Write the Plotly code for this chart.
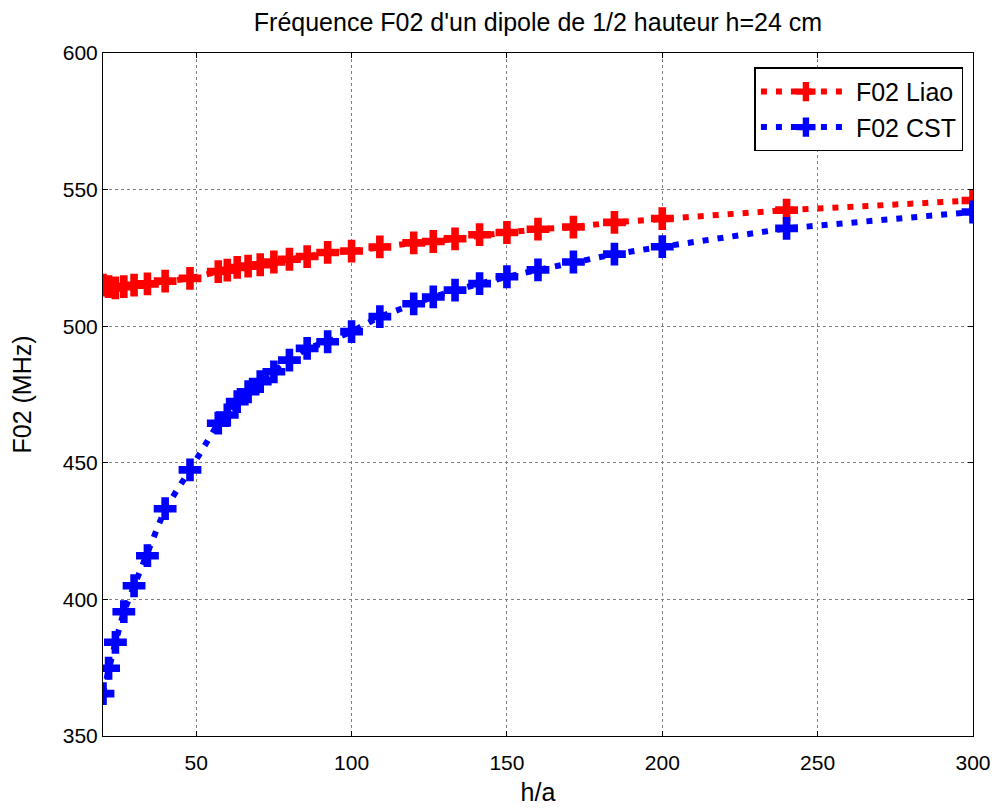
import plotly.graph_objects as go

h_over_a = [20, 21.8, 24, 26.7, 30, 34.3, 40, 48, 57.1, 60, 63.2, 66.7, 70.6, 75, 80,
            85.7, 92.3, 100, 109.1, 120, 126.3, 133.3, 141.2, 150, 160, 171.4, 184.6,
            200, 240, 300]
f02_liao = [515, 514.5, 514, 514.5, 515, 515.5, 516.5, 517.5, 520, 520.5, 521.5, 522,
            522.5, 523.5, 524.5, 525.5, 527, 527.5, 529, 530.5, 531, 532, 533.5, 534.3,
            535.5, 536.3, 538, 539.4, 542.5, 546]
f02_cst = [365.5, 374.8, 384.3, 395.5, 405, 416, 433.2, 447.4, 464.5, 467.5, 472.4, 476,
           479.7, 483.3, 487.6, 491.9, 494.3, 498, 503.5, 508.2, 510.7, 513.2, 515.6,
           518.1, 520.6, 523.5, 526.4, 529.1, 535.8, 541.8]

x_ticks = [50, 100, 150, 200, 250, 300]
y_ticks = [350, 400, 450, 500, 550, 600]

font = "Liberation Sans, Arial, sans-serif"

W, H = 991, 800
OFF = 8  # page body margin

fig = go.Figure()
for name, vals, col in [("F02 Liao", f02_liao, "#ff0000"), ("F02 CST", f02_cst, "#0000ff")]:
    fig.add_trace(go.Scatter(
        x=h_over_a, y=vals, name=name, mode="lines+markers",
        line=dict(color=col, width=6, dash="6px,9px"),
        marker=dict(symbol="cross", size=19, color=col, line=dict(width=0)),
    ))

axis_common = dict(
    showline=True, linecolor="black", linewidth=1, mirror="ticks",
    ticks="inside", ticklen=5, tickcolor="black", automargin=False,
    showgrid=True, gridcolor="#7f7f7f", griddash="dot", gridwidth=1,
    zeroline=False, tickfont=dict(size=21, color="black", family=font),
)

fig.update_layout(
    width=W, height=H,
    margin=dict(l=103 - OFF, r=26, t=53 - OFF, b=72, autoexpand=False),
    paper_bgcolor="white", plot_bgcolor="white",
    font=dict(family=font, color="black"),
    title=dict(text="Fréquence F02 d'un dipole de 1/2 hauteur h=24 cm",
               x=((103 + 973) / 2 - OFF) / W, xanchor="center",
               y=1 - (22 - OFF) / H, yanchor="middle",
               font=dict(size=25, family=font, color="black")),
    xaxis=dict(range=[20, 300], tickvals=x_ticks, ticklabelstandoff=8,
               title=dict(text="h/a", font=dict(size=25), standoff=10), **axis_common),
    yaxis=dict(range=[350, 600], tickvals=y_ticks,
               title=dict(text="F02 (MHz)", font=dict(size=25), standoff=24), **axis_common),
    legend=dict(x=0.989, y=0.979, xanchor="right", yanchor="top",
                bordercolor="black", borderwidth=1.5, bgcolor="white",
                font=dict(size=25, family=font, color="black"),
                itemwidth=90),
    showlegend=True,
)

fig.write_html("out.html")
